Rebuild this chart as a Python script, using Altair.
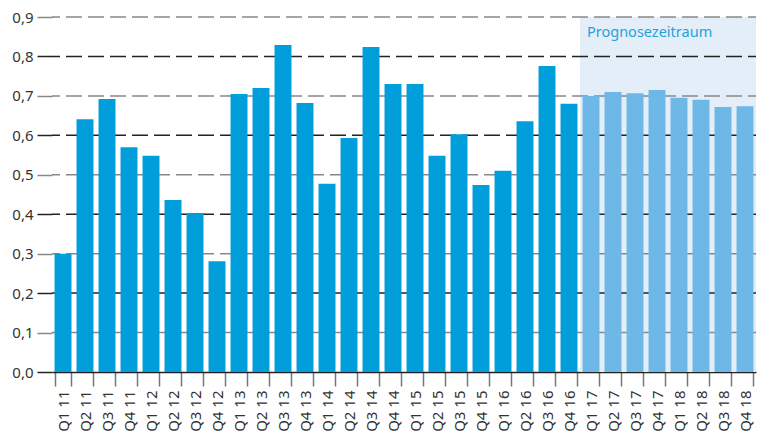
import altair as alt
import pandas as pd

quarters = ["Q1 11","Q2 11","Q3 11","Q4 11","Q1 12","Q2 12","Q3 12","Q4 12",
            "Q1 13","Q2 13","Q3 13","Q4 13","Q1 14","Q2 14","Q3 14","Q4 14",
            "Q1 15","Q2 15","Q3 15","Q4 15","Q1 16","Q2 16","Q3 16","Q4 16",
            "Q1 17","Q2 17","Q3 17","Q4 17","Q1 18","Q2 18","Q3 18","Q4 18"]
values = [0.300,0.641,0.692,0.570,0.548,0.436,0.403,0.281,
          0.705,0.720,0.829,0.682,0.477,0.593,0.824,0.730,
          0.730,0.548,0.603,0.474,0.510,0.636,0.776,0.680,
          0.700,0.710,0.707,0.715,0.695,0.690,0.672,0.674]
forecast_quarters = quarters[24:]
forecast_label = "Prognosezeitraum"
y_ticks = [0.0,0.1,0.2,0.3,0.4,0.5,0.6,0.7,0.8,0.9]

FONT = "Noto Sans"

df = pd.DataFrame({
    "q": quarters,
    "v": values,
    "kind": ["forecast" if q in forecast_quarters else "actual" for q in quarters],
})
bg = pd.DataFrame({"q": forecast_quarters, "y0": 0.0, "y1": 0.9})
lab = pd.DataFrame({"q": [forecast_quarters[0]], "y": [0.9], "t": [forecast_label]})
grid_df = pd.DataFrame({"y": y_ticks[1:],
                        "odd": [("odd" if round(t * 10) % 2 == 1 else "even") for t in y_ticks[1:]]})

xscale = alt.Scale(domain=quarters, paddingInner=0.23, paddingOuter=0.115)
yscale = alt.Scale(domain=[0, 0.9], nice=False, zero=True)

odd_test = "round(datum.value*10) % 2 == 1"

xaxis = alt.Axis(title=None, labelAngle=270, labelAlign="right", labelBaseline="middle",
                 labelFont=FONT, labelFontSize=15, labelColor="#333",
                 tickBand="extent", tickSize=14, tickColor="#777", tickWidth=1.5,
                 domainColor="#222", domainWidth=1.5, labelPadding=4, grid=False,
                 labelOverlap=False)
yaxis = alt.Axis(title=None, values=y_ticks, labelOverlap=False,
                 labelExpr="replace(format(datum.value,'.1f'),'.',',')",
                 labelFont=FONT, labelFontSize=15, labelColor="#333", labelPadding=4,
                 tickSize=15, tickWidth=1.5, domain=False, grid=False,
                 tickColor=alt.condition(odd_test, alt.value("#888"), alt.value("#222")))

X = alt.X("q:N", scale=xscale, axis=xaxis, sort=quarters)

back = alt.Chart(bg).mark_bar(color="#e4eef8", width=alt.RelativeBandSize(22/17)).encode(
    x=X,
    y=alt.Y("y0:Q", scale=yscale, axis=yaxis),
    y2="y1:Q",
)

grid = alt.Chart(grid_df).mark_rule(strokeDash=[16, 6], strokeDashOffset=8, strokeWidth=1.5).encode(
    y=alt.Y("y:Q", scale=yscale, axis=yaxis),
    color=alt.Color("odd:N", scale=alt.Scale(domain=["odd", "even"], range=["#888", "#222"]), legend=None),
)

bars = alt.Chart(df).mark_bar().encode(
    x=X,
    y=alt.Y("v:Q", scale=yscale, axis=yaxis),
    fill=alt.Fill("kind:N", scale=alt.Scale(domain=["actual", "forecast"], range=["#009edb", "#6db8e6"]), legend=None),
)

text = alt.Chart(lab).mark_text(align="left", baseline="middle", dx=-4, dy=16,
                                font=FONT, fontSize=14.5, color="#23a2dc").encode(
    x=X,
    y=alt.Y("y:Q", scale=yscale, axis=yaxis),
    text="t:N",
)

chart = alt.layer(back, grid, bars, text).resolve_scale(color="independent").properties(
    width=704, height=355,
    autosize=alt.AutoSizeParams(type="none"),
    padding={"left": 44, "top": 9, "right": 9, "bottom": 60},
).configure_view(stroke=None)

chart.save("out.html", embed_options={"renderer": "svg", "actions": False})
